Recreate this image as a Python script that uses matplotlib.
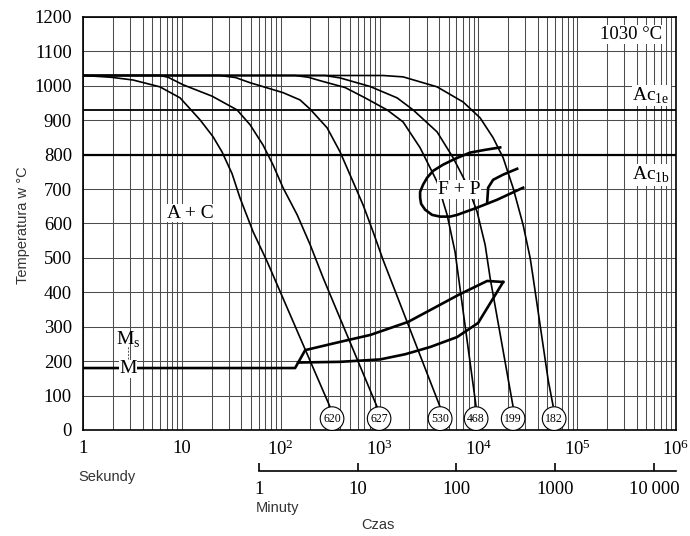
import numpy as np
from matplotlib import pyplot as plt
from matplotlib import ticker

#####################################
# Data (time in s, temperature in deg C)
start_temp = 1030
ac1e = 930
ac1b = 800

c620_t = [1, 1.9, 3.2, 6.0, 9.6, 15.3, 20.7, 25.5, 32.2, 38.8, 52.6, 72.8, 316]
c620_T = [1030, 1025, 1017, 997, 965, 901, 852, 808, 745, 674, 576, 490, 67]

c627_t = [1, 6.0, 7.25, 10.3, 20.2, 36.2, 49.0, 66.3, 83.8, 106, 147, 199, 269, 946]
c627_T = [1030, 1030, 1025, 1003, 970, 930, 887, 828, 770, 703, 625, 538, 442, 67]

c530_t = [1, 24.4, 35, 49, 106, 157, 199, 295, 399, 504, 682, 861, 1087, 4105]
c530_T = [1030, 1030, 1024, 1009, 980, 959, 932, 878, 808, 741, 654, 576, 494, 67]

c468_t = [1, 140, 190, 250, 449, 715, 1194, 1733, 2576, 3828, 4834, 5820, 9500]
c468_T = [1030, 1030, 1025, 1015, 995, 965, 930, 895, 820, 721, 625, 517, 67]

c199_t = [1, 281, 399, 804, 1507, 2188, 3828, 5559, 7706, 9720, 11720, 13160, 22500]
c199_T = [1030, 1030, 1023, 998, 965, 930, 866, 791, 712, 634, 538, 442, 67]

c182_t = [1, 1087, 1733, 3828, 7020, 10420, 14120, 17830, 22500, 28390, 33440, 35890, 50900, 57100]
c182_T = [1030, 1030, 1026, 997, 953, 907, 849, 791, 703, 596, 500, 442, 145, 70]

hardness = [620, 627, 530, 468, 199, 182]
hardness_t = [331, 991, 4105, 9500, 22500, 58500]
hardness_T = 33

# martensite start + bainite region
ms_t = [1, 140, 177, 399, 804, 1946, 6250, 12280, 17830]
ms_T = [180, 180, 232, 256, 276, 314, 392, 433, 430]
bs_lo_t = [17830, 9950, 6100, 3250, 1815, 1014, 399, 150]
bs_lo_T = [430, 311, 270, 241, 220, 205, 198, 196]

# ferrite + pearlite nose
fp_t = [16630, 11720, 8260, 5820, 4405, 3490, 3033, 2763, 2576, 2576, 2637,
        2895, 3405, 4105, 5185, 6100, 9720, 15490, 28390]
fp_T = [821, 814, 806, 788, 771, 753, 733, 713, 692, 675, 657,
        640, 625, 620, 620, 625, 646, 669, 704]
fp_hook_t = [12280, 12570, 14120, 17830, 24700]
fp_hook_T = [660, 704, 727, 742, 759]

x_ticks = [1, 10, 1e2, 1e3, 1e4, 1e5, 1e6]
x_labels = ['1', '10', r'$\mathregular{10^{2}}$', r'$\mathregular{10^{3}}$',
            r'$\mathregular{10^{4}}$', r'$\mathregular{10^{5}}$', r'$\mathregular{10^{6}}$']
min_ticks = [1, 10, 100, 1000, 10000]
min_labels = ['1', '10', '100', '1000', '10\u2009000']
y_ticks = list(range(0, 1300, 100))

ms_label_t = 2.85
ms_dash_T = [205, 245]
#####################################

serif = ['Liberation Serif', 'DejaVu Serif']
sans = ['Liberation Sans', 'DejaVu Sans']

#####################################
# Figure
fig = plt.figure(figsize=(6.9, 5.36), dpi=100)
ax = fig.add_axes([0.1203, 0.1978, 0.8594, 0.7705])
ax.set_xscale('log')
ax.set_xlim(1, 1e6)
ax.set_ylim(0, 1200)
ax.set_axisbelow(True)

ax.xaxis.set_major_locator(ticker.FixedLocator(x_ticks))
ax.xaxis.set_major_formatter(ticker.FixedFormatter(x_labels))
ax.xaxis.set_minor_locator(ticker.LogLocator(base=10, subs=np.arange(2, 10), numticks=20))
ax.xaxis.set_minor_formatter(ticker.NullFormatter())
ax.set_yticks(y_ticks)
ax.grid(which='both', axis='x', color='#4d4d4d', lw=0.75)
ax.grid(which='major', axis='y', color='#4d4d4d', lw=0.75)
ax.tick_params(which='both', length=0, labelsize=13.5, labelfontfamily='Liberation Serif')
ax.tick_params(axis='x', pad=7)
ax.tick_params(axis='y', pad=8)
for s in ax.spines.values():
    s.set_linewidth(1.2)
#####################################

#####################################
# Lines
ax.axhline(ac1e, color='black', lw=1.3)
ax.axhline(ac1b, color='black', lw=1.6)

curves = [(c620_t, c620_T), (c627_t, c627_T), (c530_t, c530_T),
          (c468_t, c468_T), (c199_t, c199_T), (c182_t, c182_T)]
for t, T in curves:
    ax.plot(t, T, color='black', lw=1.2)

ax.plot(ms_t, ms_T, color='black', lw=1.9)
ax.plot(bs_lo_t, bs_lo_T, color='black', lw=1.9)
ax.plot(fp_t, fp_T, color='black', lw=1.9)
ax.plot(fp_hook_t, fp_hook_T, color='black', lw=1.9)

for h, t in zip(hardness, hardness_t):
    ax.text(t, hardness_T, str(h), ha='center', va='center', fontsize=8.5,
            family=serif, zorder=5,
            bbox=dict(boxstyle='circle,pad=0.25', fc='white', ec='black', lw=0.8))
#####################################

#####################################
# Labels
wbox = dict(fc='white', ec='none', pad=0.5)
ax.text(12.1, 630, 'A + C', fontsize=14, family=serif, ha='center', va='center', bbox=wbox)
ax.text(6390, 698, 'F + P', fontsize=14, family=serif, ha='center', va='center', bbox=wbox)
ax.text(3.5e5, 1149, '1030 °C', fontsize=13.5, family=serif, ha='center', va='center', bbox=wbox)
ax.text(5.6e5, 972, r'Ac$_\mathregular{1e}$', fontsize=14, family=serif, ha='center', va='center', bbox=wbox)
ax.text(5.6e5, 742, r'Ac$_\mathregular{1b}$', fontsize=14, family=serif, ha='center', va='center', bbox=wbox)
ax.text(ms_label_t, 262, r'M$_\mathregular{s}$', fontsize=14, family=serif, ha='center', va='center')
ax.text(ms_label_t, 178, 'M', fontsize=14, family=serif, ha='center', va='center',
        bbox=dict(fc='white', ec='none', pad=0.3))
ax.plot([ms_label_t, ms_label_t], ms_dash_T, color='#555555', lw=0.7, ls=(0, (2, 1.5)))

# minutes axis
sec = ax.secondary_xaxis(-0.0993, functions=(lambda s: s / 60.0, lambda m: m * 60.0))
sec.xaxis.set_major_locator(ticker.FixedLocator(min_ticks))
sec.xaxis.set_major_formatter(ticker.FixedFormatter(min_labels))
sec.xaxis.set_minor_locator(ticker.NullLocator())
sec.spines['bottom'].set_bounds(1, 1e6 / 60)
sec.spines['bottom'].set_linewidth(1.2)
sec.tick_params(direction='in', length=6, width=1.2, pad=7, labelsize=13.5,
                labelfontfamily='Liberation Serif')

fig.text(23 / 690, 1 - 225 / 536, 'Temperatura w °C', rotation=90, ha='center', va='center',
         fontsize=10.5, family=sans, color='#333333')
fig.text(78 / 690, 1 - 477 / 536, 'Sekundy', ha='left', va='center', fontsize=10.5,
         family=sans, color='#333333')
fig.text(256 / 690, 1 - 508 / 536, 'Minuty', ha='left', va='center', fontsize=10.5,
         family=sans, color='#333333')
fig.text(378 / 690, 1 - 525 / 536, 'Czas', ha='center', va='center', fontsize=10.5,
         family=sans, color='#333333')
#####################################

fig.savefig('out.png', dpi=100)
